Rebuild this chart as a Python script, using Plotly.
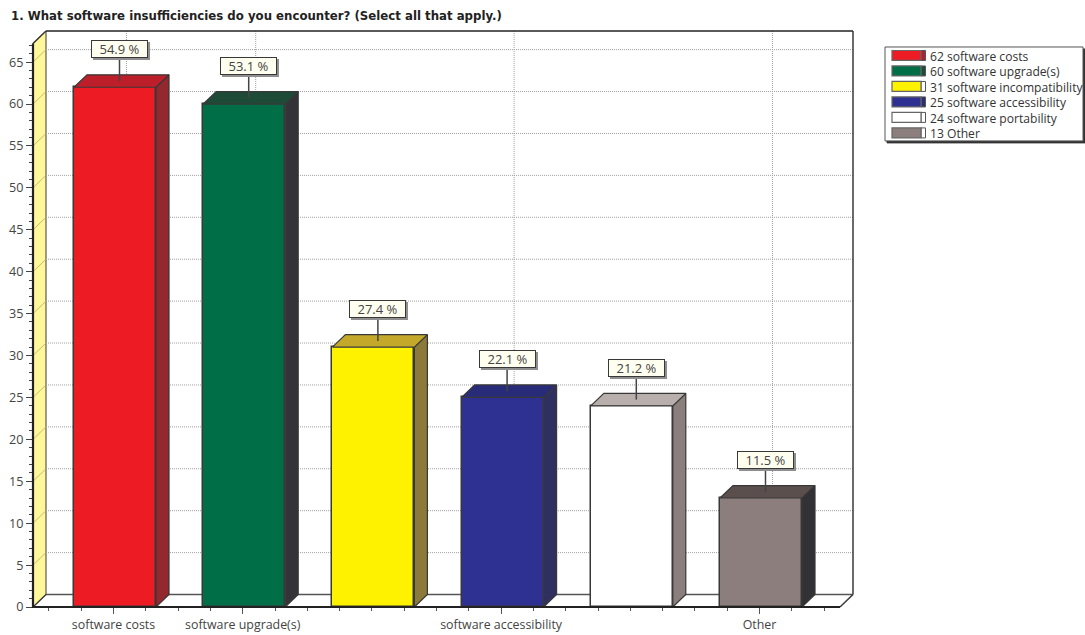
import plotly.graph_objects as go

# Survey results
categories = ["software costs", "software upgrade(s)", "software incompatibility",
              "software accessibility", "software portability", "Other"]
counts = [62, 60, 31, 25, 24, 13]
percents = ["54.9 %", "53.1 %", "27.4 %", "22.1 %", "21.2 %", "11.5 %"]
labelled_positions = [0, 1, 3, 5]

front_colors = ["#ed1c24", "#006f47", "#fff200", "#2e3192", "#ffffff", "#8b7e7c"]
side_colors = ["#93282e", "#333338", "#8c7a3a", "#2f3060", "#8a7f7c", "#323236"]
top_colors = ["#bd1f2a", "#1e4b38", "#c4a82a", "#282c78", "#b8aeac", "#5a4f4d"]
swatch_side_colors = ["#b02030", "#1d4d3a", "#ffffff", "#2b2f6e", "#ffffff", "#ffffff"]

title = "1. What software insufficiencies do you encounter? (Select all that apply.)"

W, H = 1085, 635
L, R, T, B = 33, 853, 31, 607.5
PX_PER_UNIT = 8.39
PX_PER_CAT = 129.2
ORIGIN_X = 115
DEPTH_X, DEPTH_Y = 13, 12.5
dx, dy = DEPTH_X / PX_PER_CAT, DEPTH_Y / PX_PER_UNIT
BAR_W = 82 / PX_PER_CAT
TICK_NUDGE = -1.5 / PX_PER_CAT
INK = "#383838"
FONT = "Open Sans"


def px(x):
    return (x - L) / (R - L)


def py(y):
    return (B - y) / (B - T)


def frame_line(x0, y0, x1, y1, color=INK, width=1.5, dash="solid", layer="below"):
    return dict(type="line", xref="paper", yref="paper", x0=px(x0), y0=py(y0),
                x1=px(x1), y1=py(y1), layer=layer,
                line=dict(color=color, width=width, dash=dash))


def frame_rect(x0, y0, x1, y1, fill, line=INK, width=1, layer="above"):
    return dict(type="rect", xref="paper", yref="paper", x0=px(x0), y0=py(y0),
                x1=px(x1), y1=py(y1), layer=layer, fillcolor=fill,
                line=dict(color=line, width=width))


fig = go.Figure()

# Front faces of the columns
fig.add_trace(go.Bar(
    x=list(range(len(counts))), y=counts, width=BAR_W,
    marker=dict(color=front_colors, line=dict(color=INK, width=1.5)),
    showlegend=False, hoverinfo="skip"))

# Side and top faces of the columns
for i, v in enumerate(counts):
    r = i + BAR_W / 2
    l = i - BAR_W / 2
    fig.add_trace(go.Scatter(
        x=[r, r + dx, r + dx, r, r], y=[0, dy, v + dy, v, 0],
        mode="lines", fill="toself", fillcolor=side_colors[i],
        line=dict(color=INK, width=1.2), showlegend=False, hoverinfo="skip"))
    fig.add_trace(go.Scatter(
        x=[l, l + dx, r + dx, r, l], y=[v, v + dy, v + dy, v, v],
        mode="lines", fill="toself", fillcolor=top_colors[i],
        line=dict(color=INK, width=1.2), showlegend=False, hoverinfo="skip"))

# Leader lines from the column tops to the percentage boxes
LABEL_RISE = 38
for i, v in enumerate(counts):
    lx = i + 4.5 / PX_PER_CAT
    fig.add_trace(go.Scatter(
        x=[lx, lx], y=[v + dy / 2, v + (LABEL_RISE - 9) / PX_PER_UNIT],
        mode="lines", line=dict(color="#444444", width=1.5),
        showlegend=False, hoverinfo="skip"))

shapes = []

# Left wall
shapes.append(dict(type="path", xref="paper", yref="paper", layer="below",
                   path=f"M {px(L)} {py(B)} L {px(L + DEPTH_X)} {py(B - DEPTH_Y)} "
                        f"L {px(L + DEPTH_X)} {py(T)} L {px(L)} {py(T + DEPTH_Y)} Z",
                   fillcolor="#fff799", line=dict(color=INK, width=1)))

# Horizontal gridlines across the wall and the back plane
for tick in range(5, 70, 5):
    y = B - tick * PX_PER_UNIT
    shapes.append(frame_line(L, y, L + DEPTH_X, y - DEPTH_Y, "#b5ad6a", 0.8, layer="below"))
    shapes.append(frame_line(L + DEPTH_X, y - DEPTH_Y, R, y - DEPTH_Y, "#a0a0a0", 1, "1px,1px"))

# Vertical gridlines behind the labelled categories
for pos in labelled_positions:
    x = ORIGIN_X + pos * PX_PER_CAT + DEPTH_X - 1.5
    shapes.append(frame_line(x, T, x, B - DEPTH_Y, "#a0a0a0", 1, "1px,1px"))

# Box frame
shapes += [
    frame_line(L + DEPTH_X, T, R, T, "#222222", 1.5),
    frame_line(R, T, R, B - DEPTH_Y, INK, 1.5),
    frame_line(L + DEPTH_X, B - DEPTH_Y, R, B - DEPTH_Y, "#555555", 1.5),
    frame_line(R, B - DEPTH_Y, R - DEPTH_X, B, INK, 1.5),
    frame_line(L, T + DEPTH_Y, L + DEPTH_X, T, INK, 1.5),
    frame_line(L, B, L + DEPTH_X, B - DEPTH_Y, INK, 1.2),
    frame_line(L, T + DEPTH_Y, L, B, "#222222", 2.2, layer="above"),
    frame_line(L - 1, B, R - DEPTH_X, B, "#222222", 2.2, layer="above"),
]

annotations = []

# Percentage boxes with a drop shadow
for i, v in enumerate(counts):
    for shift, bg, border, text in [(2, "#8f8f8f", "#8f8f8f", " "),
                                    (0, "#fffff0", INK, percents[i])]:
        annotations.append(dict(
            x=i, y=v, xref="x", yref="y", xshift=4.5 + shift, yshift=LABEL_RISE - shift,
            text=text, showarrow=False, width=55, height=16,
            bgcolor=bg, bordercolor=border, borderwidth=1, borderpad=0,
            font=dict(family=FONT, size=13, color="#444444")))

# Legend panel
LEG_X0, LEG_Y0, LEG_X1, LEG_Y1 = 885, 47, 1083, 141
shapes.append(frame_rect(LEG_X0 + 2, LEG_Y0 + 2, LEG_X1 + 2, LEG_Y1 + 2, "#333333", "#333333"))
shapes.append(frame_rect(LEG_X0, LEG_Y0, LEG_X1, LEG_Y1, "#ffffff", "#555555"))
for i, (name, v) in enumerate(zip(categories, counts)):
    cy = 55.5 + i * 15.5
    shapes.append(frame_rect(921, cy - 5, 925.5, cy + 5, swatch_side_colors[i], "#555555"))
    shapes.append(frame_rect(892, cy - 5, 921, cy + 5, front_colors[i], "#666666", 1.2))
    annotations.append(dict(
        x=px(928), y=py(cy + 1), xref="paper", yref="paper", xanchor="left", yanchor="middle",
        text=f"{v} {name}", showarrow=False,
        font=dict(family=FONT, size=12.1, color="#333333")))

# Question heading
annotations.append(dict(
    x=px(9), y=py(16), xref="paper", yref="paper", xanchor="left", yanchor="middle",
    text=f"<b>{title}</b>", showarrow=False,
    font=dict(family="DejaVu Sans", size=11.75, color="#222222")))

fig.update_layout(
    width=W, height=H, autosize=False,
    margin=dict(l=L, r=W - R, t=T, b=H - B, pad=0),
    paper_bgcolor="#ffffff", plot_bgcolor="#ffffff",
    shapes=shapes, annotations=annotations, showlegend=False, bargap=0,
    xaxis=dict(
        automargin=False,
        range=[(L - ORIGIN_X) / PX_PER_CAT, (R - ORIGIN_X) / PX_PER_CAT],
        tickmode="array", tickvals=[p + TICK_NUDGE for p in labelled_positions],
        ticktext=[categories[p] for p in labelled_positions],
        ticks="outside", ticklen=6, tickwidth=1, tickcolor="#555555",
        minor=dict(tickmode="array",
                   tickvals=[-0.5 + 0.25 * k + TICK_NUDGE for k in range(25)],
                   ticks="outside", ticklen=3, tickwidth=1, tickcolor="#555555", showgrid=False),
        showgrid=False, zeroline=False, showline=False,
        tickfont=dict(family=FONT, size=12.4, color="#444444")),
    yaxis=dict(
        automargin=False,
        range=[0, (B - T) / PX_PER_UNIT],
        tickmode="array", tickvals=list(range(0, 70, 5)),
        ticks="outside", ticklen=6, tickwidth=1, tickcolor="#444444",
        minor=dict(tickmode="array", tickvals=list(range(0, 68)),
                   ticks="outside", ticklen=3, tickwidth=1, tickcolor="#444444", showgrid=False),
        showgrid=False, zeroline=False, showline=False,
        tickfont=dict(family=FONT, size=12.6, color="#444444")),
)

fig.write_html("out.html")
